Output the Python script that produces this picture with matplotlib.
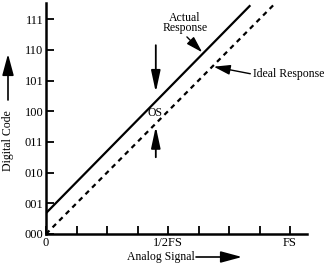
import matplotlib
matplotlib.use("Agg")
import matplotlib.pyplot as plt

# ---- data ----
code_labels = ['000', '001', '010', '011', '100', '101', '110', '111']
code_pos = [0, 1, 2, 3, 4, 5, 6, 7]
x_tick_pos = [0, 1, 2, 3, 4, 5, 6, 7, 8]
x_tick_labels = ['0', '', '', '', '1/2FS', '', '', '', 'FS']
ideal_x = [0.0, 7.47]
ideal_y = [0.0, 7.47]
actual_x = [0.0, 6.7]
actual_y = [0.68, 7.45]

plt.rcParams['font.family'] = ['Liberation Serif', 'DejaVu Serif']
fs = 8.5
tfs = 9

fig = plt.figure(figsize=(3.27, 2.68), dpi=100)
W, H = 327, 268
ax = fig.add_axes([46 / W, (H - 234) / H, 261 / W, 231 / H])
ax.set_xlim(0, 261 / 30.5)
ax.set_ylim(0, 231 / 30.7)

ax.plot(actual_x, actual_y, color='black', lw=1.6, solid_capstyle='butt')
ax.plot(ideal_x, ideal_y, color='black', lw=1.6, linestyle=(0, (2.2, 2.0)))

for s in ['top', 'right']:
    ax.spines[s].set_visible(False)
for s in ['left', 'bottom']:
    ax.spines[s].set_linewidth(1.8)

ax.set_yticks(code_pos)
ax.set_yticklabels(code_labels, fontsize=tfs)
ax.set_xticks(x_tick_pos)
ax.set_xticklabels(x_tick_labels, fontsize=tfs)
ax.tick_params(axis='both', direction='in', length=6, width=1.3)
ax.tick_params(axis='y', pad=2)
ax.tick_params(axis='x', pad=2.5)

ap = dict(arrowstyle='-|>,head_length=1.3,head_width=0.28', color='black',
          lw=1.3, shrinkA=0, shrinkB=0)

# OS arrows and label
ax.annotate('', xy=(3.6, 4.62), xytext=(3.6, 6.15), arrowprops=ap)
ax.annotate('', xy=(3.6, 3.5), xytext=(3.6, 2.5), arrowprops=ap)
ax.text(3.58, 3.94, 'OS', fontsize=fs, ha='center', va='center')

# Actual Response
ax.text(4.56, 6.87, 'Actual\nResponse', fontsize=fs, ha='center', va='center',
        linespacing=0.85)
ax.annotate('', xy=(5.12, 5.92), xytext=(4.62, 6.42),
            arrowprops=dict(arrowstyle='-|>,head_length=1.0,head_width=0.3',
                            color='black', lw=1.0, shrinkA=0, shrinkB=0))

# Ideal Response
ax.text(6.8, 5.21, 'Ideal Response', fontsize=fs, ha='left', va='center',
        clip_on=False)
ax.annotate('', xy=(5.5, 5.45), xytext=(6.7, 5.22),
            arrowprops=dict(arrowstyle='-|>,head_length=1.0,head_width=0.3',
                            color='black', lw=1.0, shrinkA=0, shrinkB=0))

# Axis labels with arrows
fig.text(161 / W, 1 - 257 / H, 'Analog Signal', fontsize=fs, ha='center',
         va='center')
fig.add_artist(matplotlib.patches.FancyArrowPatch(
    (196 / W, 1 - 257 / H), (242 / W, 1 - 257 / H), transform=fig.transFigure,
    arrowstyle='-|>,head_length=13,head_width=3.5', color='black', lw=1.2,
    shrinkA=0, shrinkB=0, mutation_scale=1))
fig.text(8 / W, 1 - 141 / H, 'Digital Code', fontsize=fs, ha='center',
         va='center', rotation=90)
fig.add_artist(matplotlib.patches.FancyArrowPatch(
    (8 / W, 1 - 100 / H), (8 / W, 1 - 54 / H), transform=fig.transFigure,
    arrowstyle='-|>,head_length=13,head_width=3.5', color='black', lw=1.2,
    shrinkA=0, shrinkB=0, mutation_scale=1))

fig.savefig('out.png', dpi=100)
